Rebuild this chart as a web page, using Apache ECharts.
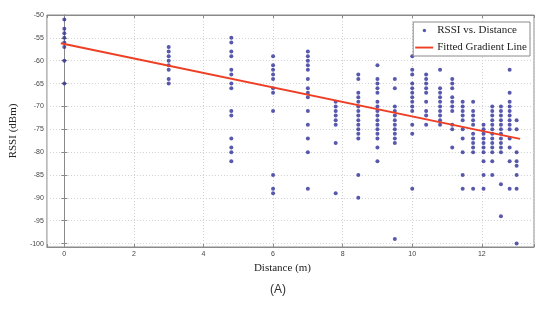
<!DOCTYPE html>
<html>
<head>
<meta charset="utf-8">
<title>RSSI vs. Distance</title>
<script src="https://cdn.jsdelivr.net/npm/echarts@6/dist/echarts.min.js"></script>
<style>
  html, body { margin: 0; padding: 0; background: #fff; }
  #rssiChart { width: 548px; height: 311px; }
</style>
</head>
<body>
<div id="rssiChart"></div>
<script>
// distance columns (m) and the RSSI readings (dBm) measured at each one
const distances = [0, 3, 4.8, 6, 7, 7.8, 8.45, 9, 9.5, 10, 10.4, 10.8, 11.15, 11.45, 11.75, 12.05, 12.3, 12.55, 12.8, 13];
const rssiByDistance = [
  [-51, -53, -54, -55, -56, -57, -60, -65],
  [-57, -58, -59, -60, -61, -62, -64, -65],
  [-55, -56, -58, -59, -62, -63, -65, -66, -71, -72, -77, -79, -80, -82],
  [-59, -61, -62, -63, -64, -66, -67, -71, -85, -88, -89],
  [-58, -59, -60, -61, -62, -64, -66, -67, -68, -71, -74, -77, -80, -88],
  [-69, -70, -71, -72, -73, -74, -78, -89],
  [-63, -64, -67, -68, -69, -70, -71, -72, -73, -74, -75, -76, -77, -85, -90],
  [-61, -64, -65, -66, -67, -69, -70, -71, -72, -73, -74, -75, -76, -77, -79, -82],
  [-64, -66, -70, -71, -72, -73, -74, -75, -76, -77, -78, -99],
  [-59, -62, -63, -65, -66, -67, -68, -69, -70, -71, -74, -76, -88],
  [-63, -64, -65, -66, -67, -69, -71, -72, -74],
  [-62, -66, -67, -68, -69, -70, -71, -72, -73, -74],
  [-64, -65, -66, -68, -69, -70, -71, -74, -75, -79],
  [-69, -70, -71, -72, -73, -75, -77, -80, -85, -88],
  [-69, -71, -72, -73, -74, -76, -77, -78, -79, -80, -88],
  [-74, -75, -76, -77, -78, -79, -80, -82, -85, -88],
  [-70, -71, -72, -73, -74, -75, -76, -77, -78, -79, -80, -82, -85],
  [-70, -71, -72, -73, -74, -75, -76, -77, -78, -79, -80, -87, -94],
  [-62, -67, -69, -70, -71, -72, -73, -74, -75, -77, -79, -82, -88],
  [-73, -75, -80, -82, -83, -85, -88, -100]
];
// end points of the fitted gradient line
const fitX = [-0.1, 13.1];
const fitY = [-56.2, -77.1];

const scatterData = [];
distances.forEach((d, i) => {
  rssiByDistance[i].forEach(v => scatterData.push([d, v]));
});
const fitData = fitX.map((x, i) => [x, fitY[i]]);

const chartDom = document.getElementById('rssiChart');
const myChart = echarts.init(chartDom);

const tickLabel = {
  fontFamily: 'Liberation Sans',
  fontSize: 7,
  color: '#444'
};
const axisGray = '#8a8a8a';
const gridDots = { color: '#d0d0d0', type: [1, 2], width: 1 };
// only integer ticks get a label (the extra ticks at the axis ends stay blank)
const intOnly = v => (Math.abs(v - Math.round(v)) < 1e-6 ? String(Math.round(v)) : '');

const option = {
  animation: false,
  backgroundColor: '#fff',
  grid: {
    left: 36,
    right: 14,
    top: 15,
    bottom: 64,
    show: true,
    borderColor: axisGray,
    borderWidth: 1
  },
  graphic: [
    {
      type: 'text',
      left: 270,
      top: 284,
      style: {
        text: '(A)',
        font: '12px "Liberation Sans"',
        fill: '#333'
      }
    }
  ],
  legend: {
    orient: 'vertical',
    right: 18,
    top: 22,
    padding: [2, 3, 2, 2],
    itemGap: 4,
    itemWidth: 18,
    itemHeight: 13,
    backgroundColor: '#fff',
    borderColor: axisGray,
    borderWidth: 1,
    borderRadius: 0,
    textStyle: {
      fontFamily: 'Liberation Serif',
      fontSize: 11,
      color: '#222',
      padding: [0, 0, 0, -1]
    },
    data: [
      { name: 'RSSI vs. Distance', icon: 'path://M0,0M18,13M7.5,6.5a1.7,1.7 0 1,0 3.4,0a1.7,1.7 0 1,0 -3.4,0' },
      { name: 'Fitted Gradient Line', icon: 'path://M0,0M18,13M0,5.6h18v1.9h-18z' }
    ]
  },
  xAxis: [
    {
      type: 'value',
      min: -0.5,
      max: 13.5,
      splitNumber: 7,
      name: 'Distance (m)',
      nameLocation: 'middle',
      nameGap: 14,
      nameTextStyle: {
        fontFamily: 'Liberation Serif',
        fontSize: 11,
        color: '#222',
        padding: [0, 16, 0, 0]
      },
      axisLine: { show: true, lineStyle: { color: axisGray } },
      axisTick: { show: true, inside: true, length: 3, lineStyle: { color: axisGray } },
      axisLabel: Object.assign({ margin: 4, formatter: intOnly }, tickLabel),
      splitLine: { show: true, lineStyle: gridDots }
    },
    {
      type: 'value',
      position: 'top',
      min: -0.5,
      max: 13.5,
      splitNumber: 7,
      axisLine: { show: true, lineStyle: { color: axisGray } },
      axisTick: { show: true, inside: true, length: 3, lineStyle: { color: axisGray } },
      axisLabel: { show: false },
      splitLine: { show: false }
    }
  ],
  yAxis: [
    {
      type: 'value',
      min: -100.75,
      max: -50,
      splitNumber: 10,
      name: 'RSSI (dBm)',
      nameLocation: 'middle',
      nameGap: 19,
      nameTextStyle: {
        fontFamily: 'Liberation Serif',
        fontSize: 11,
        color: '#222'
      },
      axisLine: { show: true, lineStyle: { color: axisGray } },
      axisTick: { show: true, inside: true, length: 3, lineStyle: { color: axisGray } },
      axisLabel: Object.assign({ margin: 3, formatter: intOnly }, tickLabel),
      splitLine: { show: true, lineStyle: gridDots }
    },
    {
      type: 'value',
      position: 'right',
      min: -100.75,
      max: -50,
      splitNumber: 10,
      axisLine: { show: true, lineStyle: { color: axisGray } },
      axisTick: { show: true, inside: true, length: 3, lineStyle: { color: axisGray } },
      axisLabel: { show: false },
      splitLine: { show: false }
    }
  ],
  series: [
    {
      name: 'RSSI vs. Distance',
      type: 'scatter',
      data: scatterData,
      symbol: 'circle',
      symbolSize: 4,
      itemStyle: { color: '#2e2e98' },
      z: 3
    },
    {
      name: 'Fitted Gradient Line',
      type: 'line',
      data: fitData,
      symbol: 'none',
      showSymbol: false,
      lineStyle: { color: '#ee3f25', width: 2 },
      itemStyle: { color: '#ee3f25' },
      z: 4
    }
  ]
};

myChart.setOption(option);

window.addEventListener('resize', () => {
  myChart.resize();
});
</script>
</body>
</html>
